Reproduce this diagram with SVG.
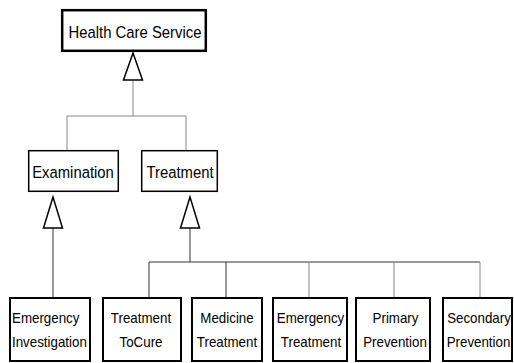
<svg xmlns="http://www.w3.org/2000/svg" width="514" height="363" viewBox="0 0 514 363">
<style>
.box{fill:#fff;stroke:#000}
.thick{stroke-width:2.5}
.mid{stroke-width:1.5}
.bot{stroke-width:2}
.t{font-family:"Liberation Sans",Arial,sans-serif;fill:#000}
.big{font-size:16.5px;text-anchor:middle}
.sm{font-size:14.5px;text-anchor:middle}
.tri{fill:#fff;stroke:#000;stroke-width:1.5}
.c1{stroke:#888;stroke-width:1;fill:none}
.c2{stroke:#333;stroke-width:1;fill:none}
</style>
<g id="connectors">
  <path class="c1" d="M133 80V116M67 116H186M67 116V150M186 116V150"/>
  <path class="c2" d="M53 228V297"/>
  <path class="c2" d="M190 228V262M149 262H480M149 262V297M226 262V297"/>
  <path class="c1" d="M309 262V297M394 262V297M480 262V297"/>
  <polygon class="tri" points="133,53 123.5,80 142.5,80"/>
  <polygon class="tri" points="53,197 43.5,228 62.5,228"/>
  <polygon class="tri" points="190,197 180.5,228 199.5,228"/>
</g>
<g id="health-care-service">
  <rect class="box thick" x="62.2" y="10.2" width="143.6" height="40.6"/>
  <text class="t big" transform="translate(135,37.5) scale(0.9 1)">Health Care Service</text>
</g>
<g id="examination">
  <rect class="box mid" x="28.7" y="150.7" width="89.6" height="40.6"/>
  <text class="t big" transform="translate(73,177.5) scale(0.9 1)">Examination</text>
</g>
<g id="treatment">
  <rect class="box mid" x="141.7" y="150.7" width="75.6" height="40.6"/>
  <text class="t big" transform="translate(180,177.5) scale(0.9 1)">Treatment</text>
</g>
<g id="emergency-investigation">
  <rect class="box bot" x="10" y="298" width="80" height="63"/>
  <text class="t" style="font-size:14.5px" transform="translate(12,322.5) scale(0.92 1)">Emergency</text>
  <text class="t" style="font-size:14.5px" transform="translate(12,346.5) scale(0.92 1)">Investigation</text>
</g>
<g id="treatment-tocure">
  <rect class="box bot" x="103" y="298" width="78" height="63"/>
  <text class="t sm" transform="translate(141,322.5) scale(0.92 1)">Treatment</text>
  <text class="t sm" transform="translate(141,346.5) scale(0.92 1)">ToCure</text>
</g>
<g id="medicine-treatment">
  <rect class="box bot" x="192" y="298" width="70" height="63"/>
  <text class="t sm" transform="translate(227,322.5) scale(0.92 1)">Medicine</text>
  <text class="t sm" transform="translate(227,346.5) scale(0.92 1)">Treatment</text>
</g>
<g id="emergency-treatment">
  <rect class="box bot" x="273" y="298" width="74" height="63"/>
  <text class="t sm" transform="translate(310.5,322.5) scale(0.92 1)">Emergency</text>
  <text class="t sm" transform="translate(311,346.5) scale(0.92 1)">Treatment</text>
</g>
<g id="primary-prevention">
  <rect class="box bot" x="356" y="298" width="74" height="63"/>
  <text class="t sm" transform="translate(395.5,322.5) scale(0.92 1)">Primary</text>
  <text class="t sm" transform="translate(395,346.5) scale(0.92 1)">Prevention</text>
</g>
<g id="secondary-prevention">
  <rect class="box bot" x="443" y="298" width="69" height="63"/>
  <text class="t sm" transform="translate(479,322.5) scale(0.92 1)">Secondary</text>
  <text class="t sm" transform="translate(478.5,346.5) scale(0.92 1)">Prevention</text>
</g>
</svg>
